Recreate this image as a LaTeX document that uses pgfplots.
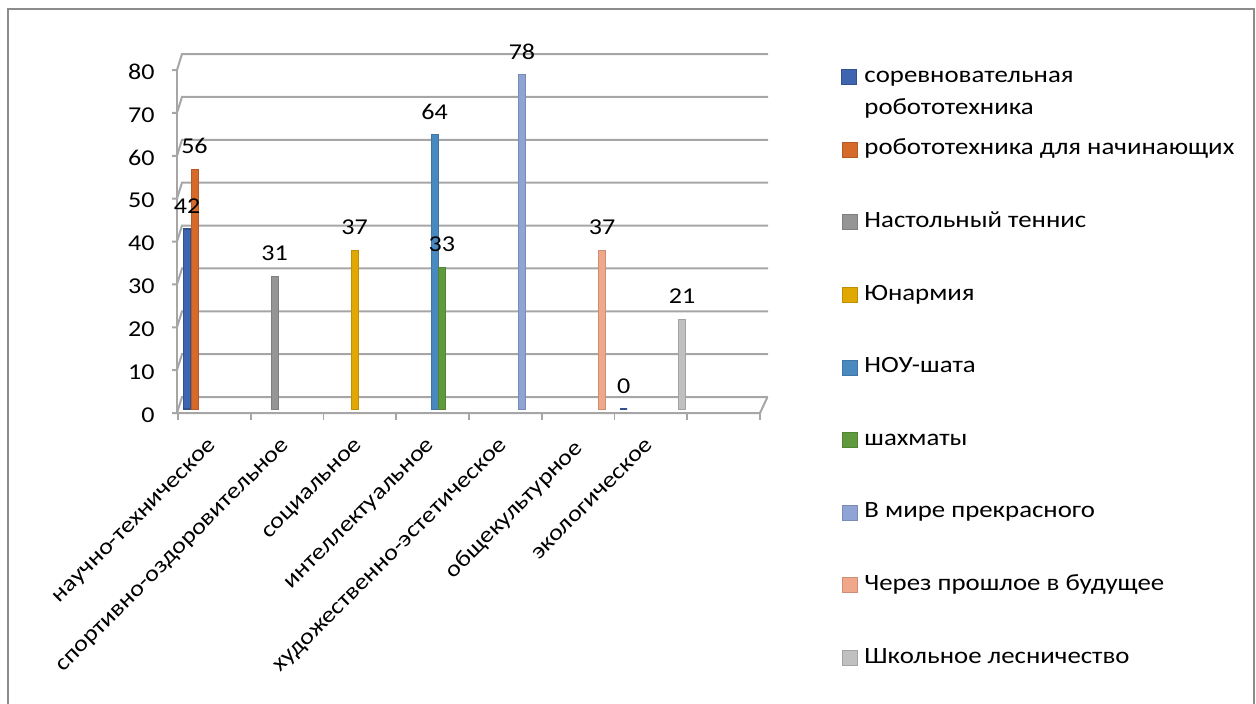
\documentclass[border=0pt]{standalone}
\usepackage{pgfplots}
\pgfplotsset{compat=1.18}
\usepackage{fontspec}
\setmainfont{Carlito}[FakeStretch=1.15]
\definecolor{c1}{HTML}{3F65B0}
\definecolor{c2}{HTML}{D66A2B}
\definecolor{c3}{HTML}{959595}
\definecolor{c4}{HTML}{E0A800}
\definecolor{c5}{HTML}{4A89C0}
\definecolor{c6}{HTML}{5F9B3E}
\definecolor{c7}{HTML}{8FA3D5}
\definecolor{c8}{HTML}{F0A78A}
\definecolor{c9}{HTML}{C0C0C0}
\definecolor{gridg}{HTML}{A6A6A6}
\definecolor{frameg}{HTML}{8C8C8C}
\newcommand\fnt{\fontsize{17pt}{24pt}\selectfont}
\newcommand\lfnt{\fontsize{17.5pt}{24pt}\selectfont}
\begin{document}
\begin{tikzpicture}
\useasboundingbox (0,0) rectangle (942pt,-527.25pt);
\draw[frameg, line width=1.2pt] (6pt,-6.75pt) rectangle (940.5pt,-560pt);
\begin{axis}[
  at={(135pt,-306.75pt)}, anchor=south west,
  scale only axis, width=436.5pt, height=257.25pt,
  xmin=-0.5, xmax=7.5, ymin=0, ymax=80,
  clip=false,
  axis line style={draw=none}, major tick length=0pt,
  /pgf/number format/assume math mode=true,
  ytick={0,10,...,80}, xtick={0,...,6},
  xticklabels={научно-техническое, спортивно-оздоровительное, социальное, интеллектуальное, художественно-эстетическое, общекультурное, экологическое},
  ticklabel style={font=\fnt, black},
  yticklabel style={xshift=-15.5pt, yshift=-4.5pt},
  xticklabel style={xshift=-5.6pt, yshift=-17pt, rotate=45, anchor=north east},
  ybar=0.225pt, bar width=5.25pt,
  nodes near coords,
  every node near coord/.append style={font=\fnt, black, yshift=8pt},
  legend style={at={(axis description cs:1.1357,1.0)}, anchor=north west,
    draw=none, fill=none, inner sep=0pt, font=\lfnt, row sep=38.45pt,
    nodes={inner sep=0pt, text height=12pt, text depth=4pt},
    /tikz/every odd column/.append style={column sep=5.25pt}},
  legend cell align=left,
  legend image code/.code={\fill[#1] (0pt,-5.625pt) rectangle (11.25pt,5.625pt);},
]
% 3D walls: back gridlines, left wall, floor
\pgfplotsinvokeforeach{0,10,...,80}{
  \draw[gridg, line width=1.5pt] ([xshift=-6pt,yshift=-3pt]axis cs:-0.5,#1) -- ([xshift=-2.25pt,yshift=-3pt]axis cs:-0.5,#1) -- ([xshift=1.5pt,yshift=9pt]axis cs:-0.5,#1) -- ([xshift=4.5pt,yshift=9pt]axis cs:7.5,#1);
}
\draw[gridg, line width=1.2pt] ([xshift=-2.25pt,yshift=-3pt]axis cs:-0.5,0) -- ([xshift=-2.25pt,yshift=-3pt]axis cs:-0.5,80);
\draw[gridg, line width=1.5pt] ([xshift=-1.5pt,yshift=-3pt]axis cs:-0.5,0) -- ([xshift=-1.5pt,yshift=-3pt]axis cs:7.5,0) -- ([xshift=3.75pt,yshift=8.25pt]axis cs:7.5,0);
\pgfplotsinvokeforeach{-0.5,0.5,...,7.5}{
  \draw[gridg, line width=1.2pt] ([xshift=-1.5pt,yshift=-3pt]axis cs:#1,0) -- ([xshift=-1.5pt,yshift=-8.25pt]axis cs:#1,0);
}
\addplot[fill=c1, draw=c1!80!black, line width=0.9pt] coordinates {(0,42) (6,0)};
\addlegendentry{\begin{tabular}[t]{@{}l@{}}соревновательная\\робототехника\end{tabular}}
\addplot[fill=c2, draw=c2!85!black, line width=0.4pt] coordinates {(0,56)};
\addlegendentry{робототехника для начинающих}
\addplot[fill=c3, draw=c3!85!black, line width=0.4pt] coordinates {(1,31)};
\addlegendentry{Настольный теннис}
\addplot[fill=c4, draw=c4!85!black, line width=0.4pt] coordinates {(2,37)};
\addlegendentry{Юнармия}
\addplot[fill=c5, draw=c5!85!black, line width=0.4pt] coordinates {(3,64)};
\addlegendentry{НОУ-шата}
\addplot[fill=c6, draw=c6!85!black, line width=0.4pt] coordinates {(3,33)};
\addlegendentry{шахматы}
\addplot[fill=c7, draw=c7!85!black, line width=0.4pt] coordinates {(4,78)};
\addlegendentry{В мире прекрасного}
\addplot[fill=c8, draw=c8!85!black, line width=0.4pt] coordinates {(5,37)};
\addlegendentry{Через прошлое в будущее}
\addplot[fill=c9, draw=c9!85!black, line width=0.4pt] coordinates {(6,21)};
\addlegendentry{Школьное лесничество}
\end{axis}
\end{tikzpicture}
\end{document}
